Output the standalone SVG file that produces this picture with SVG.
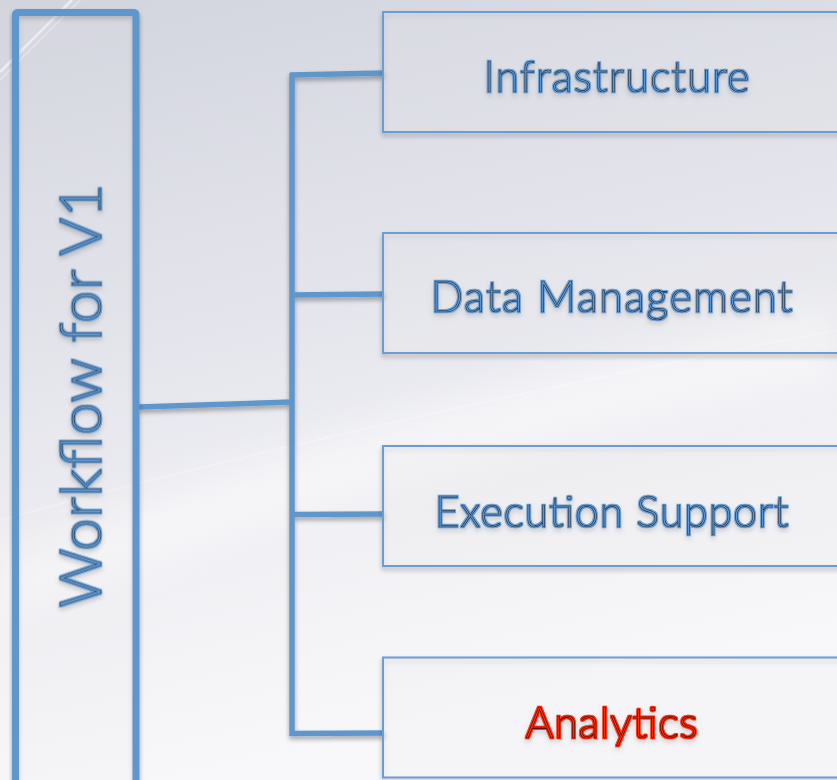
<svg xmlns="http://www.w3.org/2000/svg" width="837" height="780" viewBox="0 0 837 780">
  <defs>
    <linearGradient id="bg" x1="0" y1="0" x2="0.25" y2="1">
      <stop offset="0" stop-color="#d2d4de"/>
      <stop offset="0.45" stop-color="#e4e5ec"/>
      <stop offset="0.75" stop-color="#f1f1f5"/>
      <stop offset="1" stop-color="#f8f8fa"/>
    </linearGradient>
    <filter id="soft" x="-10%" y="-10%" width="120%" height="120%">
      <feGaussianBlur stdDeviation="18"/>
    </filter>
    <filter id="shadow" x="-5%" y="-10%" width="115%" height="130%">
      <feGaussianBlur in="SourceAlpha" stdDeviation="2.5"/>
      <feOffset dx="0" dy="3" result="b"/>
      <feComponentTransfer><feFuncA type="linear" slope="0.35"/></feComponentTransfer>
      <feMerge><feMergeNode/><feMergeNode in="SourceGraphic"/></feMerge>
    </filter>
    <filter id="haloBlue" x="-5%" y="-20%" width="110%" height="140%">
      <feMorphology in="SourceAlpha" operator="dilate" radius="1.2" result="d"/>
      <feFlood flood-color="#6a9fd6"/>
      <feComposite in2="d" operator="in" result="h"/>
      <feMerge><feMergeNode in="h"/><feMergeNode in="SourceGraphic"/></feMerge>
    </filter>
    <filter id="haloRed" x="-5%" y="-20%" width="110%" height="140%">
      <feMorphology in="SourceAlpha" operator="dilate" radius="1.2" result="d"/>
      <feFlood flood-color="#ff2a0a"/>
      <feComposite in2="d" operator="in" result="h"/>
      <feMerge><feMergeNode in="h"/><feMergeNode in="SourceGraphic"/></feMerge>
    </filter>
  </defs>
  <style>
    .box { fill: #ffffff; fill-opacity: 0.12; stroke: #6b9dd2; stroke-width: 2; }
    .frame { fill: #ffffff; fill-opacity: 0.08; stroke: #5f97cd; stroke-width: 7; }
    .wire { fill: none; stroke: #5f97cd; stroke-width: 5.5; stroke-linecap: butt; }
    .label { font-family: "Lato", "Open Sans", "Liberation Sans", sans-serif; font-weight: 300; fill: #5f97d0; stroke: #101820; stroke-width: 0.6; text-anchor: middle; }
    .hot { fill: #ff2a0a; stroke: #200000; }
  </style>

  <!-- backdrop -->
  <rect x="0" y="0" width="837" height="780" fill="url(#bg)"/>
  <path d="M0 560 C 200 470, 500 380, 837 300 L 837 380 C 520 440, 260 520, 0 620 Z" fill="#ffffff" opacity="0.45" filter="url(#soft)"/>
  <path d="M0 520 C 220 460, 520 390, 837 330" fill="none" stroke="#ffffff" stroke-width="2" opacity="0.25"/>
  <line x1="0" y1="72" x2="72" y2="0" stroke="#ffffff" stroke-width="3" opacity="0.55"/>
  <line x1="0" y1="80" x2="80" y2="0" stroke="#ffffff" stroke-width="2" opacity="0.3"/>

  <!-- connectors -->
  <g id="connectors" filter="url(#shadow)">
    <line class="wire" x1="139" y1="407" x2="292" y2="402"/>
    <line class="wire" x1="292" y1="73" x2="292" y2="736"/>
    <line class="wire" x1="290" y1="75" x2="384" y2="73"/>
    <line class="wire" x1="290" y1="295" x2="384" y2="294"/>
    <line class="wire" x1="290" y1="514.5" x2="384" y2="514"/>
    <line class="wire" x1="290" y1="733.5" x2="384" y2="733"/>
  </g>

  <!-- root node -->
  <g id="workflow" filter="url(#shadow)">
    <rect class="frame" x="15.5" y="12.5" width="120.5" height="790" rx="2"/>
    <text class="label" filter="url(#haloBlue)" font-size="58" transform="translate(101 395.5) rotate(-90)" textLength="424" lengthAdjust="spacing">Workflow for V1</text>
  </g>

  <!-- child nodes -->
  <g id="infrastructure" filter="url(#shadow)">
    <rect class="box" x="383" y="12" width="470" height="120"/>
    <text class="label" filter="url(#haloBlue)" font-size="43" x="616.5" y="92" textLength="266" lengthAdjust="spacing">Infrastructure</text>
  </g>
  <g id="data-management" filter="url(#shadow)">
    <rect class="box" x="383" y="233" width="470" height="120"/>
    <text class="label" filter="url(#haloBlue)" font-size="43" x="611.5" y="312" textLength="362" lengthAdjust="spacing">Data Management</text>
  </g>
  <g id="execution-support" filter="url(#shadow)">
    <rect class="box" x="383" y="446" width="470" height="120"/>
    <text class="label" filter="url(#haloBlue)" font-size="43" x="611.5" y="527" textLength="354" lengthAdjust="spacing">Execution Support</text>
  </g>
  <g id="analytics" filter="url(#shadow)">
    <rect class="box" x="383" y="657.5" width="470" height="120"/>
    <text class="label hot" filter="url(#haloRed)" font-size="43" x="611.5" y="738" textLength="172" lengthAdjust="spacing">Analytics</text>
  </g>
</svg>
